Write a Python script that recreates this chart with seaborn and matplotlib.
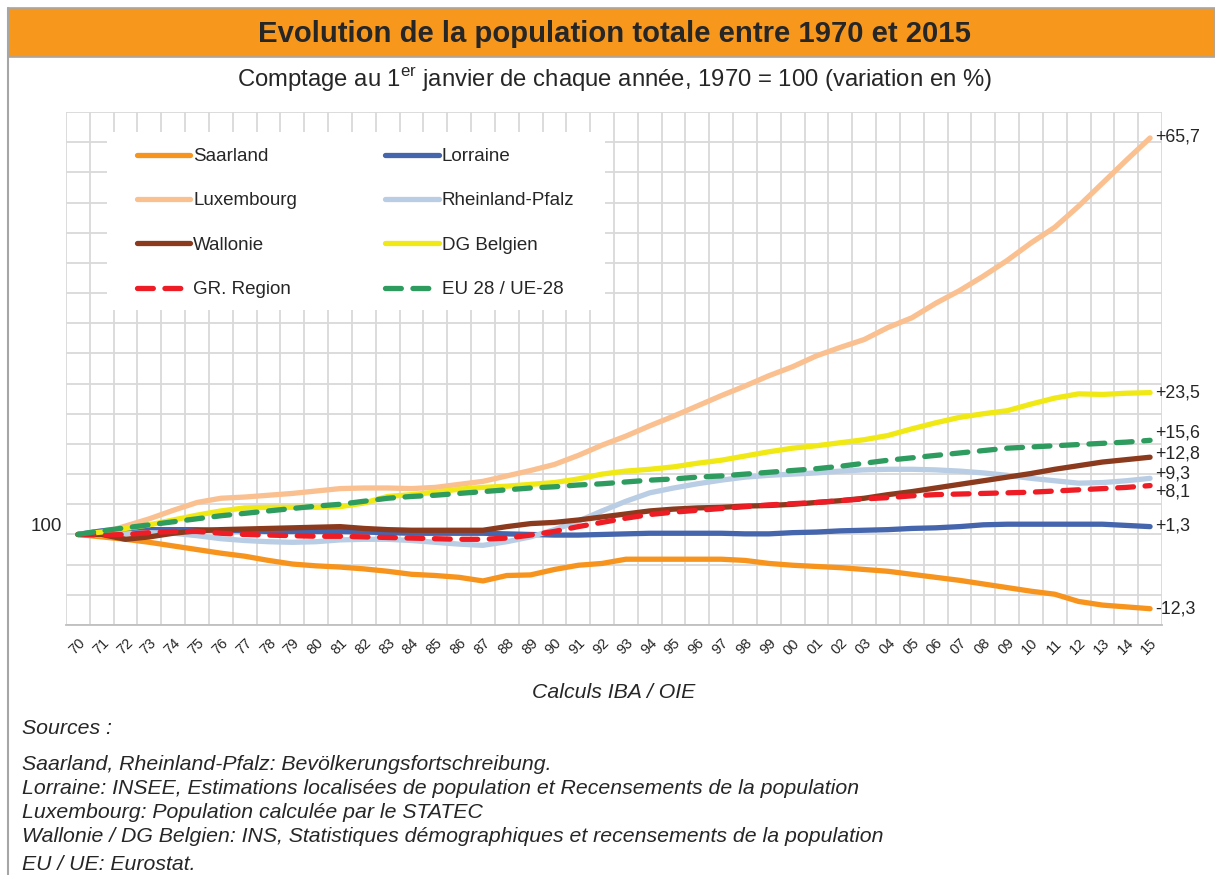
import matplotlib
matplotlib.use("Agg")
import matplotlib.pyplot as plt
from matplotlib.patches import Rectangle
import numpy as np
import pandas as pd
import seaborn as sns

years = list(range(1970, 2016))
year_labels = [f"{y % 100:02d}" for y in years]

saarland = [100, 99.6, 99.2, 98.7, 98.1, 97.5, 96.9, 96.4, 95.7, 95.1, 94.8, 94.6, 94.3, 93.9, 93.4, 93.2,
            92.9, 92.3, 93.2, 93.3, 94.2, 94.9, 95.2, 95.9, 95.9, 95.9, 95.9, 95.9, 95.7, 95.2, 94.9, 94.7,
            94.5, 94.2, 93.9, 93.4, 92.9, 92.4, 91.8, 91.2, 90.6, 90.1, 88.9, 88.3, 88.0, 87.7]
lorraine = [100, 100.6, 100.8, 100.8, 100.8, 100.8, 100.7, 100.6, 100.5, 100.5, 100.5, 100.5, 100.4, 100.3,
            100.2, 100.2, 100.2, 100.2, 100.1, 100.0, 99.9, 99.9, 100.0, 100.1, 100.2, 100.2, 100.2, 100.2,
            100.1, 100.1, 100.3, 100.4, 100.6, 100.7, 100.8, 101.0, 101.1, 101.3, 101.6, 101.7, 101.7, 101.7,
            101.7, 101.7, 101.5, 101.3]
luxembourg = [100, 100.2, 101.4, 102.6, 104.0, 105.3, 106.0, 106.2, 106.5, 106.8, 107.2, 107.6, 107.7, 107.7,
              107.6, 107.8, 108.3, 108.8, 109.7, 110.6, 111.6, 113.1, 114.8, 116.3, 118.0, 119.6, 121.3, 123.0,
              124.6, 126.3, 127.8, 129.6, 131.0, 132.3, 134.3, 135.9, 138.3, 140.4, 142.8, 145.4, 148.3, 150.9,
              154.4, 158.2, 162.0, 165.7]
rheinland = [100, 99.9, 100.1, 100.3, 100.2, 99.8, 99.3, 99.0, 98.8, 98.7, 98.8, 99.1, 99.2, 99.2, 99.0, 98.7,
             98.4, 98.2, 98.8, 99.6, 100.8, 102.2, 103.9, 105.5, 106.9, 107.7, 108.4, 109.0, 109.5, 109.8, 110.0,
             110.2, 110.5, 110.7, 110.8, 110.8, 110.7, 110.5, 110.2, 109.8, 109.3, 108.9, 108.5, 108.6, 108.9, 109.3]
wallonie = [100, 100.0, 99.2, 99.6, 100.2, 100.6, 100.8, 100.9, 101.0, 101.1, 101.2, 101.3, 101.0, 100.8, 100.7,
            100.7, 100.7, 100.7, 101.3, 101.8, 102.0, 102.4, 102.9, 103.4, 103.9, 104.2, 104.4, 104.5, 104.7, 104.8,
            105.0, 105.3, 105.6, 106.0, 106.6, 107.1, 107.7, 108.3, 108.9, 109.5, 110.1, 110.8, 111.4, 112.0, 112.4,
            112.8]
dg_belgien = [100, 100.4, 101.0, 101.6, 102.4, 103.2, 103.9, 104.4, 104.5, 104.5, 104.5, 104.6, 105.2, 106.3,
              106.6, 107.0, 107.5, 107.8, 108.0, 108.3, 108.6, 109.2, 110.0, 110.5, 110.8, 111.2, 111.8, 112.3,
              113.0, 113.7, 114.3, 114.7, 115.2, 115.7, 116.4, 117.5, 118.5, 119.4, 120.0, 120.5, 121.6, 122.6,
              123.3, 123.2, 123.4, 123.5]
gr_region = [100, 99.9, 100.0, 100.3, 100.5, 100.5, 100.2, 100.0, 99.9, 99.8, 99.7, 99.7, 99.6, 99.5, 99.4, 99.3,
             99.2, 99.2, 99.4, 99.9, 100.5, 101.3, 102.0, 102.7, 103.3, 103.7, 104.0, 104.3, 104.6, 104.9, 105.1,
             105.3, 105.6, 105.9, 106.1, 106.4, 106.6, 106.7, 106.8, 106.9, 107.0, 107.2, 107.4, 107.6, 107.8, 108.1]
eu28 = [100, 100.6, 101.1, 101.6, 102.1, 102.6, 103.1, 103.5, 103.9, 104.3, 104.7, 105.0, 105.5, 106.0, 106.3,
        106.5, 106.8, 107.1, 107.4, 107.7, 107.9, 108.2, 108.4, 108.7, 109.0, 109.2, 109.5, 109.7, 110.0, 110.3,
        110.6, 110.9, 111.3, 111.8, 112.3, 112.7, 113.1, 113.5, 113.9, 114.3, 114.5, 114.7, 114.9, 115.1, 115.3,
        115.6]

names = ["Saarland", "Lorraine", "Luxembourg", "Rheinland-Pfalz", "Wallonie", "DG Belgien",
         "GR. Region", "EU 28 / UE-28"]
series = [saarland, lorraine, luxembourg, rheinland, wallonie, dg_belgien, gr_region, eu28]
end_labels = ["-12,3", "+1,3", "+65,7", "+9,3", "+12,8", "+23,5", "+8,1", "+15,6"]

colors = ["#F7941D", "#4565AD", "#FAC090", "#B9CDE5", "#8B3A1E", "#F0E915", "#EE1C25", "#2E9B5F"]
dashed = [False, False, False, False, False, False, True, True]
label_y = [87.6, 101.4, 165.8, 110.1, 113.4, 123.5, 107.0, 116.8]

sns.set_theme(style="white")
plt.rcParams["font.family"] = ["Liberation Sans", "DejaVu Sans"]
plt.rcParams["mathtext.fontset"] = "custom"
plt.rcParams["mathtext.rm"] = "Liberation Sans"
txt = "#262626"
grid_c = "#D9D9D9"

W, H = 1215, 875
fig = plt.figure(figsize=(12.15, 8.75), dpi=100)
ax = fig.add_axes([66 / W, 1 - 625 / H, 1096 / W, 513 / H])

def ax_frac(px, py):
    return (px - 66) / 1096, (625 - py) / 513

idx = np.arange(len(years))
for name, vals, c, d in zip(names, series, colors, dashed):
    sns.lineplot(x=idx, y=vals, ax=ax, color=c, lw=3.8, label=name, legend=False)
    line = ax.lines[-1]
    line.set_solid_capstyle("round")
    if d:
        line.set_dashes((3.0, 2.2))
        line.set_dash_capstyle("round")

for vals, lab, ly in zip(series, end_labels, label_y):
    ax.text(len(years) - 1 + 0.2, ly, lab, fontsize=12.8, color=txt, va="center", ha="left")

ax.set_xlim(-0.5, len(years) - 0.5)
ax.set_ylim(85, 170)
ax.set_xticks(idx)
ax.set_xticklabels(year_labels, rotation=45, ha="right", rotation_mode="anchor", fontsize=10.5, color=txt)
ax.set_xticks(np.arange(-0.5, len(years), 1), minor=True)
ax.tick_params(axis="x", which="major", length=0, pad=8)
ax.tick_params(axis="x", which="minor", length=4, color="#BFBFBF", width=1)
ax.set_yticks(np.arange(85, 171, 5))
ax.set_yticklabels([])
ax.tick_params(axis="y", length=0)
ax.text(-0.65, 101.3, "100", ha="right", va="center", fontsize=13.5, color=txt)
ax.grid(False)
ax.grid(axis="y", which="major", color=grid_c, lw=1.3)
ax.grid(axis="x", which="minor", color=grid_c, lw=1.3)
ax.set_axisbelow(True)
for s in ["top", "right", "left"]:
    ax.spines[s].set_visible(False)
ax.spines["bottom"].set_color("#BFBFBF")
ax.spines["bottom"].set_linewidth(1.3)
ax.set_xlabel("")
ax.set_ylabel("")

# white legend panel
x0, y0 = ax_frac(107, 310)
x1, y1 = ax_frac(605, 132)
ax.add_patch(Rectangle((x0, y0), x1 - x0, y1 - y0, transform=ax.transAxes, facecolor="white",
                       edgecolor="none", zorder=1))

handles, labels = ax.get_legend_handles_labels()
order = [0, 2, 4, 6, 1, 3, 5, 7]
leg = ax.legend([handles[i] for i in order], [labels[i] for i in order], ncol=2, loc="upper left",
                bbox_to_anchor=ax_frac(137, 148), borderaxespad=0, borderpad=0,
                fontsize=13.5, handlelength=2.85, handletextpad=0.15, labelspacing=1.45,
                columnspacing=4.7, frameon=False)
for t in leg.get_texts():
    t.set_color(txt)

# frame and title bar
fig.add_artist(Rectangle((8 / W, 1 - 57 / H), 1207 / W, 49 / H, transform=fig.transFigure,
                         facecolor="#F7981D", edgecolor="#A6A6A6", lw=1.2))
fig.add_artist(plt.Line2D([8 / W, 8 / W], [0, 1 - 8 / H], transform=fig.transFigure,
                          color="#A6A6A6", lw=1.5))
fig.text(615 / W, 1 - 34 / H, "Evolution de la population totale entre 1970 et 2015",
         ha="center", va="center", fontsize=21.1, fontweight="bold", color=txt)
fig.text(614 / W, 1 - 80 / H,
         "Comptage au 1$^{\\mathrm{er}}$ janvier de chaque année, 1970 = 100 (variation en %)",
         ha="center", va="center", fontsize=17.2, color=txt)
fig.text(614 / W, 1 - 693 / H, "Calculs IBA / OIE", ha="center", va="center", fontsize=15.3,
         style="italic", color=txt)

sources = ["Sources :",
           "Saarland, Rheinland-Pfalz: Bevölkerungsfortschreibung.",
           "Lorraine: INSEE, Estimations localisées de population et Recensements de la population",
           "Luxembourg: Population calculée par le STATEC",
           "Wallonie / DG Belgien: INS, Statistiques démographiques et recensements de la population",
           "EU / UE: Eurostat."]
src_y = [728, 764, 789, 813, 837, 864]
for s, y in zip(sources, src_y):
    fig.text(22 / W, 1 - y / H, s, ha="left", va="center", fontsize=15.35, style="italic", color=txt)

fig.savefig("out.png", dpi=100)
